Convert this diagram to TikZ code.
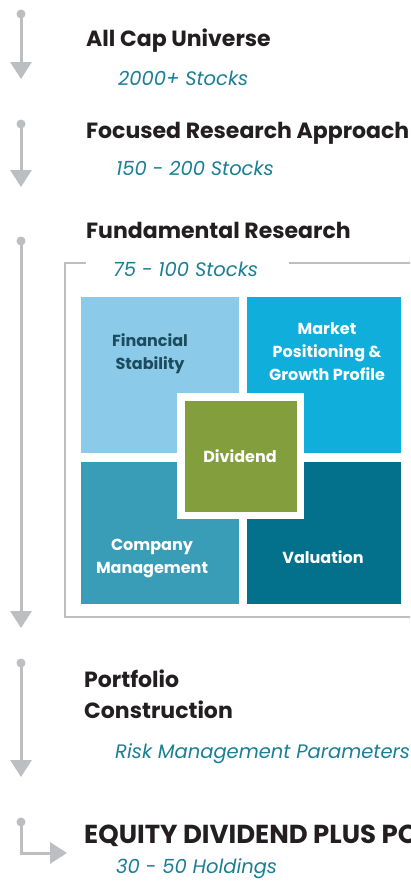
\documentclass[tikz,border=0pt]{standalone}
\usepackage{fontspec}
\setmainfont{Poppins}
\usetikzlibrary{arrows.meta}
\definecolor{flowgray}{HTML}{BDBEC2}
\definecolor{titleblack}{HTML}{231F20}
\definecolor{subteal}{HTML}{1A7F95}
\definecolor{boxA}{HTML}{8BCAE8}
\definecolor{boxB}{HTML}{0FAEDB}
\definecolor{boxC}{HTML}{3A9DB7}
\definecolor{boxD}{HTML}{03718C}
\definecolor{boxG}{HTML}{839E3C}
\definecolor{darkteal}{HTML}{1D4B5E}
\begin{document}
\begin{tikzpicture}[x=1pt,y=-1pt,
  flowline/.style={draw=flowgray,line width=3pt,-{Triangle[width=21pt,length=17pt]}},
  flowdot/.style={fill=flowgray},
  titletext/.style={anchor=base west,inner sep=0pt,text=titleblack,font=\fontsize{22}{31}\selectfont\bfseries},
  bigtitle/.style={titletext,font=\fontsize{26}{31}\selectfont\bfseries},
  subtext/.style={anchor=base west,inner sep=0pt,text=subteal,font=\fontsize{19.5}{23}\selectfont\itshape},
  boxlabel/.style={align=center,inner sep=0pt,anchor=base,font=\fontsize{16}{23}\selectfont\bfseries},
  framebox/.style={draw=flowgray,line width=2.5pt}
]
\clip (0,0) rectangle (410,886);
\fill[white] (0,0) rectangle (410,886);

% step 1
\coordinate (s1) at (21,14);
\coordinate (e1) at (21,79);
\draw[flowline] (s1) -- (e1);
\fill[flowdot] (s1) circle (4.5);
\node[titletext] (t1) at (86,46) {All Cap Universe};
\node[subtext] (u1) at (118,85) {2000+ Stocks};

% step 2
\coordinate (s2) at (21,124);
\coordinate (e2) at (21,187);
\draw[flowline] (s2) -- (e2);
\fill[flowdot] (s2) circle (4.5);
\node[titletext] (t2) at (86,138) {Focused Research Approach};
\node[subtext] (u2) at (116,175) {150 - 200 Stocks};

% step 3
\coordinate (s3) at (21,241);
\coordinate (e3) at (21,628);
\draw[flowline] (s3) -- (e3);
\fill[flowdot] (s3) circle (4.5);
\node[titletext] (t3) at (86,238) {Fundamental Research};
\draw[framebox] (86,263) -- (65,263) -- (65,617) -- (420,617);
\draw[framebox] (289,263) -- (420,263);
\node[subtext] (u3) at (113,276) {75 - 100 Stocks};

% grid
\fill[boxA] (81,297) rectangle (239,453);
\fill[boxB] (247,297) rectangle (401,453);
\fill[boxC] (81,462) rectangle (239,604);
\fill[boxD] (247,462) rectangle (401,604);
\fill[white] (177,393) rectangle (304,519);
\fill[boxG] (185,401) rectangle (297,512);
\node[boxlabel,text=darkteal] (fin) at (150,369) {Financial\\Stability};
\node[boxlabel,text=white] (mkt) at (327,380) {Market\\Positioning \&\\Growth Profile};
\node[boxlabel,text=white] (div) at (240,462) {Dividend};
\node[boxlabel,text=white] (com) at (152,573) {Company\\Management};
\node[boxlabel,text=white] (val) at (323,563) {Valuation};

% step 4
\coordinate (s4) at (21,663);
\coordinate (e4) at (21,777);
\draw[flowline] (s4) -- (e4);
\fill[flowdot] (s4) circle (4.5);
\node[titletext,align=left] (t4) at (84,718) {Portfolio\\Construction};
\node[subtext] (u4) at (115,758) {Risk Management Parameters};

% step 5
\coordinate (s5) at (21,822);
\coordinate (e5) at (67,853);
\draw[flowline] (s5) |- (e5);
\fill[flowdot] (s5) circle (4.5);
\node[bigtitle] (t5) at (84,843) {EQUITY DIVIDEND PLUS PO};
\node[subtext] (u5) at (116,873) {30 - 50 Holdings};
\end{tikzpicture}
\end{document}
